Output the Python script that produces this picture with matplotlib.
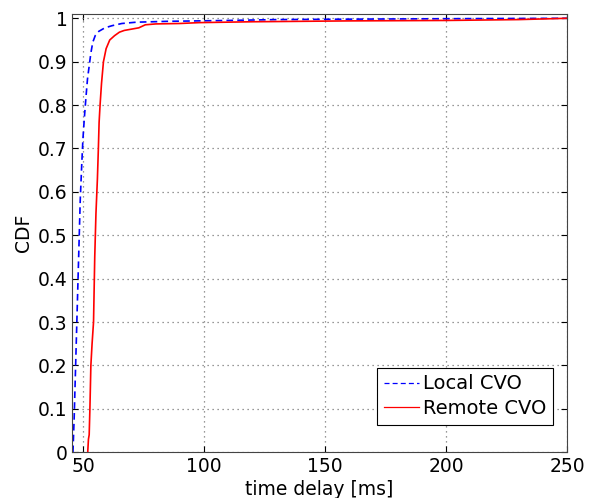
import numpy as np
import matplotlib.pyplot as plt

plt.rcParams['font.family'] = ['DejaVu Sans']

# CDF points (time delay in ms, cumulative probability)
local_delay = [45.8, 46.3, 46.8, 47.3, 47.8, 48.3, 48.8, 49.4, 49.9, 50.5, 51.2, 51.8,
               52.5, 53.2, 54.0, 55.0, 56.5, 59.0, 62.0, 66.0, 72.0, 85.0, 110.0,
               130.0, 160.0, 200.0, 250.0]
local_cdf = [0.0, 0.08, 0.18, 0.28, 0.38, 0.48, 0.58, 0.66, 0.72, 0.77, 0.82, 0.86,
             0.89, 0.92, 0.945, 0.96, 0.97, 0.978, 0.983, 0.988, 0.991, 0.993, 0.995,
             0.997, 0.998, 0.999, 1.0]

remote_delay = [51.9, 52.2, 52.5, 52.8, 53.2, 53.7, 54.3, 54.8, 55.3, 55.9, 56.3, 56.6,
                57.0, 57.6, 58.4, 59.5, 61.0, 63.0, 65.0, 67.0, 70.0, 73.0, 75.7,
                80.0, 90.0, 98.0, 120.0, 160.0, 200.0, 230.0, 250.0]
remote_cdf = [0.0, 0.03, 0.04, 0.1, 0.2, 0.25, 0.3, 0.45, 0.55, 0.63, 0.7, 0.76,
              0.8, 0.85, 0.9, 0.93, 0.95, 0.96, 0.968, 0.972, 0.975, 0.978, 0.985,
              0.987, 0.988, 0.99, 0.992, 0.994, 0.995, 0.997, 1.0]

fig, ax = plt.subplots(figsize=(6.02, 4.98), dpi=100)
fig.subplots_adjust(left=0.12, right=0.942, top=0.972, bottom=0.092)

ax.plot(local_delay, local_cdf, color='#0000ff', linewidth=1.2, dashes=(4, 2.5),
        label='Local CVO')
ax.plot(remote_delay, remote_cdf, '-', color='#ff0000', linewidth=1.2, label='Remote CVO')

ax.set_xlim(45.5, 250)
ax.set_ylim(0, 1.01)
ax.set_xticks([50, 100, 150, 200, 250])
ax.set_yticks(np.arange(0, 1.01, 0.1))
ax.set_yticklabels(['0', '0.1', '0.2', '0.3', '0.4', '0.5', '0.6', '0.7', '0.8', '0.9', '1'])
ax.tick_params(direction='in', labelsize=13.5, length=4, pad=3.5, top=True, right=True)
ax.grid(True, linestyle=(0, (1, 3)), color='#777777', linewidth=0.9)
for s in ax.spines.values():
    s.set_color('#444444')

ax.set_xlabel('time delay [ms]', fontsize=13.5, labelpad=3)
ax.set_ylabel('CDF', fontsize=13.5, labelpad=3)

leg = ax.legend(loc='lower right', bbox_to_anchor=(0.972, 0.062), borderaxespad=0,
                fontsize=14, fancybox=False, framealpha=1, edgecolor='black',
                handlelength=1.8, handletextpad=0.2, labelspacing=0.3, borderpad=0.35)
leg.get_frame().set_linewidth(0.8)
for h in leg.get_lines():
    h.set_linewidth(0.9)

plt.savefig('out.png', dpi=100)
